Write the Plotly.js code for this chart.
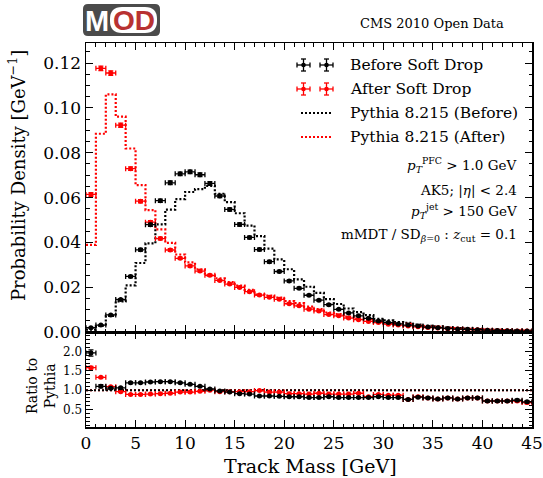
<!DOCTYPE html>
<html><head><meta charset="utf-8">
<script src="https://cdn.plot.ly/plotly-3.0.1.min.js"></script>
<style>html,body{margin:0;padding:0;background:#fff}</style>
</head><body><div id="plot" style="width:543px;height:478px"></div>
<script>
// ---- data ----
const binEdges = [0,1,2,3,4,5,6,7,8,9,10,11,12,13,14,15,16,17,18,19,20,21,22,23,24,25,26,27,28,29,30,31,32,33,34,35,36,37,38,39,40,41,42,43,44,45];

const beforeData = [0.0019,0.0031,0.0076,0.0145,0.0248,0.0367,0.0479,0.0586,0.0666,0.0706,0.0715,0.0702,0.0663,0.0607,0.0547,0.0480,0.0422,0.0368,0.0314,0.0270,0.0228,0.0195,0.0164,0.0142,0.0122,0.0101,0.0085,0.0072,0.0061,0.0049,0.0042,0.0036,0.0031,0.0027,0.0022,0.0019,0.0016,0.0013,0.0012,0.0010,0.0008,0.0007,0.0006,0.0005,0.0004];
const beforeErr = [0.0002,0.0002,0.0003,0.0004,0.0005,0.0006,0.0007,0.0007,0.0008,0.0008,0.0008,0.0008,0.0008,0.0007,0.0007,0.0007,0.0006,0.0006,0.0006,0.0005,0.0005,0.0005,0.0004,0.0004,0.0004,0.0003,0.0003,0.0003,0.0003,0.0003,0.0002,0.0002,0.0002,0.0002,0.0002,0.0002,0.0001,0.0001,0.0001,0.0001,0.0001,0.0001,0.0001,0.0001,0.0001];

const afterData = [0.0614,0.1177,0.1156,0.0923,0.0729,0.0584,0.0490,0.0417,0.0366,0.0329,0.0295,0.0272,0.0253,0.0230,0.0214,0.0199,0.0180,0.0165,0.0155,0.0146,0.0126,0.0117,0.0102,0.0094,0.0078,0.0072,0.0062,0.0055,0.0047,0.0042,0.0035,0.0031,0.0027,0.0023,0.0020,0.0018,0.0015,0.0013,0.0011,0.0010,0.0008,0.0007,0.0006,0.0005,0.0004];
const afterErr = [0.0008,0.0010,0.0010,0.0009,0.0008,0.0007,0.0007,0.0006,0.0006,0.0005,0.0005,0.0005,0.0005,0.0004,0.0004,0.0004,0.0004,0.0004,0.0003,0.0003,0.0003,0.0003,0.0003,0.0003,0.0003,0.0002,0.0002,0.0002,0.0002,0.0002,0.0002,0.0002,0.0002,0.0001,0.0001,0.0001,0.0001,0.0001,0.0001,0.0001,0.0001,0.0001,0.0001,0.0001,0.0001];

const pythiaBefore = [0.0010,0.0028,0.0072,0.0137,0.0208,0.0308,0.0396,0.0480,0.0546,0.0593,0.0625,0.0638,0.0652,0.0617,0.0580,0.0530,0.0475,0.0428,0.0372,0.0324,0.0280,0.0235,0.0202,0.0175,0.0147,0.0125,0.0105,0.0089,0.0075,0.0059,0.0052,0.0044,0.0041,0.0033,0.0028,0.0025,0.0020,0.0017,0.0015,0.0013,0.0011,0.0010,0.0008,0.0007,0.0006];
const pythiaAfter = [0.0389,0.0885,0.1061,0.0961,0.0819,0.0656,0.0544,0.0458,0.0398,0.0346,0.0311,0.0280,0.0253,0.0240,0.0223,0.0207,0.0188,0.0167,0.0163,0.0154,0.0138,0.0129,0.0113,0.0102,0.0087,0.0080,0.0069,0.0060,0.0057,0.0047,0.0040,0.0036,0.0036,0.0028,0.0025,0.0023,0.0019,0.0017,0.0014,0.0013,0.0011,0.0010,0.0008,0.0007,0.0006];

const ratioBefore = [1.96,1.10,1.05,1.06,1.19,1.19,1.21,1.22,1.22,1.19,1.15,1.10,1.03,0.98,0.95,0.91,0.90,0.85,0.85,0.84,0.83,0.83,0.81,0.81,0.83,0.81,0.81,0.81,0.81,0.83,0.81,0.81,0.76,0.82,0.80,0.77,0.80,0.77,0.80,0.80,0.72,0.72,0.72,0.74,0.70];
const ratioBeforeErr = [0.08,0.04,0.03,0.02,0.02,0.015,0.015,0.015,0.015,0.015,0.015,0.015,0.015,0.015,0.015,0.015,0.015,0.015,0.015,0.015,0.015,0.015,0.015,0.015,0.015,0.015,0.015,0.015,0.015,0.015,0.015,0.015,0.02,0.02,0.02,0.02,0.02,0.02,0.02,0.02,0.025,0.025,0.025,0.03,0.03];
const ratioAfter = [1.58,1.33,1.09,0.96,0.89,0.89,0.90,0.91,0.92,0.95,0.95,0.97,1.00,0.96,0.96,0.96,0.96,0.99,0.95,0.95,0.91,0.91,0.90,0.92,0.90,0.90,0.90,0.92,0.83,0.89,0.87,0.87,0.76,0.83,0.80,0.77,0.80,0.77,0.80,0.80,0.72,0.72,0.72,0.72,0.68];
const ratioAfterErr = [0.03,0.02,0.015,0.015,0.015,0.015,0.015,0.015,0.015,0.015,0.015,0.015,0.015,0.015,0.015,0.015,0.015,0.015,0.015,0.015,0.015,0.015,0.015,0.015,0.015,0.015,0.015,0.015,0.015,0.015,0.015,0.015,0.02,0.02,0.02,0.02,0.02,0.02,0.02,0.02,0.025,0.025,0.025,0.03,0.03];

const legendLabels = ["Before Soft Drop","After Soft Drop","Pythia 8.215 (Before)","Pythia 8.215 (After)"];
const xTitle = "Track Mass [GeV]";
const yTitle = "Probability Density [GeV<sup>\u22121</sup>]";
const ratioTitle = "Ratio to<br>Pythia";

// ---- derived from the bins ----
function binCenters(){ const c=[]; for(let i=0;i<binEdges.length-1;i++) c.push((binEdges[i]+binEdges[i+1])/2); return c; }
const centers = binCenters();
const halfW = binEdges.slice(1).map((e,i)=>(e-binEdges[i])/2);
const stepY = arr => arr.concat([arr[arr.length-1]]);

const BLACK = '#000000', RED = '#ff0000';
const FONT = 'DejaVu Serif, serif';

const W=543,H=478,L=86,R=11,T=43,B=51;
const PW=W-L-R, PH=H-T-B;
const px = v => (v-L)/PW;
const py = v => (H-B-v)/PH;
const split = py(332);

function dataTrace(x,y,ex,ey,color,xa,ya){
  return {type:'scatter',mode:'markers',x:x,y:y,xaxis:xa,yaxis:ya,
    marker:{color:color,size:5},
    error_x:{type:'data',array:ex,color:color,thickness:1.3,width:2.5},
    error_y:{type:'data',array:ey,color:color,thickness:1.3,width:2.5},
    hoverinfo:'skip',showlegend:false};
}
function histTrace(y,color){
  return {type:'scatter',mode:'lines',x:binEdges,y:stepY(y),xaxis:'x',yaxis:'y',
    line:{shape:'hv',color:color,width:2.2,dash:'2px,2px'},hoverinfo:'skip',showlegend:false};
}

const traces = [
  histTrace(pythiaBefore,BLACK),
  histTrace(pythiaAfter,RED),
  dataTrace(centers,afterData,halfW,afterErr,RED,'x','y'),
  dataTrace(centers,beforeData,halfW,beforeErr,BLACK,'x','y'),
  dataTrace(centers,ratioAfter,halfW,ratioAfterErr,RED,'x2','y2'),
  dataTrace(centers,ratioBefore,halfW,ratioBeforeErr,BLACK,'x2','y2')
];

const axisCommon = {showline:true,linecolor:'#000',linewidth:1.5,mirror:'allticks',ticks:'inside',
  ticklen:7,tickwidth:1,tickcolor:'#000',showgrid:false,zeroline:false,
  tickfont:{family:FONT,size:17,color:'#000'}};

const shapes = [];
const ann = [];
// ratio reference lines at 1
shapes.push({type:'line',xref:'x2 domain',yref:'y2',x0:0,x1:1,y0:1,y1:1,layer:'below',line:{color:RED,width:2,dash:'2px,2px'}});
shapes.push({type:'line',xref:'x2 domain',yref:'y2',x0:0,x1:1,y0:1,y1:1,layer:'below',line:{color:BLACK,width:2,dash:'2px,2px'}});

function pline(x0,y0,x1,y1,color,w,dash){
  shapes.push({type:'line',xref:'paper',yref:'paper',x0:px(x0),y0:py(y0),x1:px(x1),y1:py(y1),line:{color:color,width:w||1.3,dash:dash||'solid'}});
}
function cross(cx,cy,color){
  pline(cx-6.5,cy,cx+6.5,cy,color);
  pline(cx-6.5,cy-2.5,cx-6.5,cy+2.5,color);
  pline(cx+6.5,cy-2.5,cx+6.5,cy+2.5,color);
  pline(cx,cy-6,cx,cy+6,color);
  pline(cx-2.5,cy-6,cx+2.5,cy-6,color);
  pline(cx-2.5,cy+6,cx+2.5,cy+6,color);
  shapes.push({type:'circle',xref:'paper',yref:'paper',x0:px(cx-2.3),x1:px(cx+2.3),y0:py(cy+2.3),y1:py(cy-2.3),fillcolor:color,line:{width:0}});
}
function rrect(x0,y0,x1,y1,r,fill){
  const p=(x,y)=>px(x)+','+py(y);
  const path='M'+p(x0+r,y0)+' L'+p(x1-r,y0)+' Q'+p(x1,y0)+' '+p(x1,y0+r)+' L'+p(x1,y1-r)+' Q'+p(x1,y1)+' '+p(x1-r,y1)+
    ' L'+p(x0+r,y1)+' Q'+p(x0,y1)+' '+p(x0,y1-r)+' L'+p(x0,y0+r)+' Q'+p(x0,y0)+' '+p(x0+r,y0)+' Z';
  shapes.push({type:'path',xref:'paper',yref:'paper',path:path,fillcolor:fill,line:{width:0}});
}
function text(t,x,y,size,anchor,extra){
  ann.push(Object.assign({text:t,xref:'paper',yref:'paper',x:px(x),y:py(y),xanchor:anchor||'left',yanchor:'middle',
    showarrow:false,font:{family:FONT,size:size,color:'#000'}},extra||{}));
}

// legend
const rowsY=[65,89,113,137];
cross(303.5,rowsY[0],BLACK); cross(326.5,rowsY[0],BLACK);
cross(303.5,rowsY[1],RED); cross(326.5,rowsY[1],RED);
pline(301,rowsY[2],333,rowsY[2],BLACK,2,'2px,2px');
pline(301,rowsY[3],333,rowsY[3],RED,2,'2px,2px');
legendLabels.forEach((s,i)=>text(s,348,rowsY[i],15.5,'left'));

// cut annotations
text('<i>p</i><sub><i>T</i></sub><sup>PFC</sup> &gt; 1.0 GeV',519,165,13.5,'right');
text('AK5; |<i>\u03b7</i>| &lt; 2.4',519,190,13.5,'right');
text('<i>p</i><sub><i>T</i></sub><sup>jet</sup> &gt; 150 GeV',519,211,13.5,'right');
text('mMDT / SD<sub><i>\u03b2</i>=0</sub> : <i>z</i><sub>cut</sub> = 0.1',519,235,13.5,'right');

// header
text('CMS 2010 Open Data',506,24,13,'right');
rrect(83,4,160,36,5,'#4b4b4b');
rrect(110,7,157,33,12,'#ffffff');
text('<b>M</b>',97,21,29,'center',{font:{family:'Liberation Sans, Arial, sans-serif',size:29,color:'#ffffff'}});
text('<b>OD</b>',133.5,21,28,'center',{font:{family:'Liberation Sans, Arial, sans-serif',size:28,color:'#b83232'}});

// axis titles
text(yTitle,17,176,18,'center',{textangle:-90});
text(ratioTitle,41,386,14,'center',{textangle:-90});
text(xTitle,310,466,19,'center');

const layout = {
  width:W,height:H,margin:{l:L,r:R,t:T,b:B,pad:0},
  paper_bgcolor:'#fff',plot_bgcolor:'#fff',showlegend:false,
  xaxis:Object.assign({},axisCommon,{domain:[0,1],anchor:'y',range:[0,45],dtick:5,showticklabels:false,
    minor:{ticks:'inside',dtick:1,ticklen:3.5,tickwidth:1,tickcolor:'#000'}}),
  yaxis:Object.assign({},axisCommon,{domain:[split,1],anchor:'x',range:[0,0.129],dtick:0.02,tickformat:'.2f',
    minor:{ticks:'inside',dtick:0.005,ticklen:3.5,tickwidth:1,tickcolor:'#000'}}),
  xaxis2:Object.assign({},axisCommon,{domain:[0,1],anchor:'y2',range:[0,45],dtick:5,matches:'x',
    minor:{ticks:'inside',dtick:1,ticklen:3.5,tickwidth:1,tickcolor:'#000'}}),
  yaxis2:Object.assign({},axisCommon,{domain:[0,split],anchor:'x2',range:[0.05,2.5],tickvals:[0.5,1.0,1.5,2.0],tickformat:'.1f',
    tickfont:{family:FONT,size:12,color:'#000'},
    minor:{ticks:'inside',dtick:0.1,ticklen:3.5,tickwidth:1,tickcolor:'#000'}}),
  shapes:shapes,annotations:ann
};

Plotly.newPlot('plot',traces,layout,{staticPlot:true,displayModeBar:false});
</script></body></html>
